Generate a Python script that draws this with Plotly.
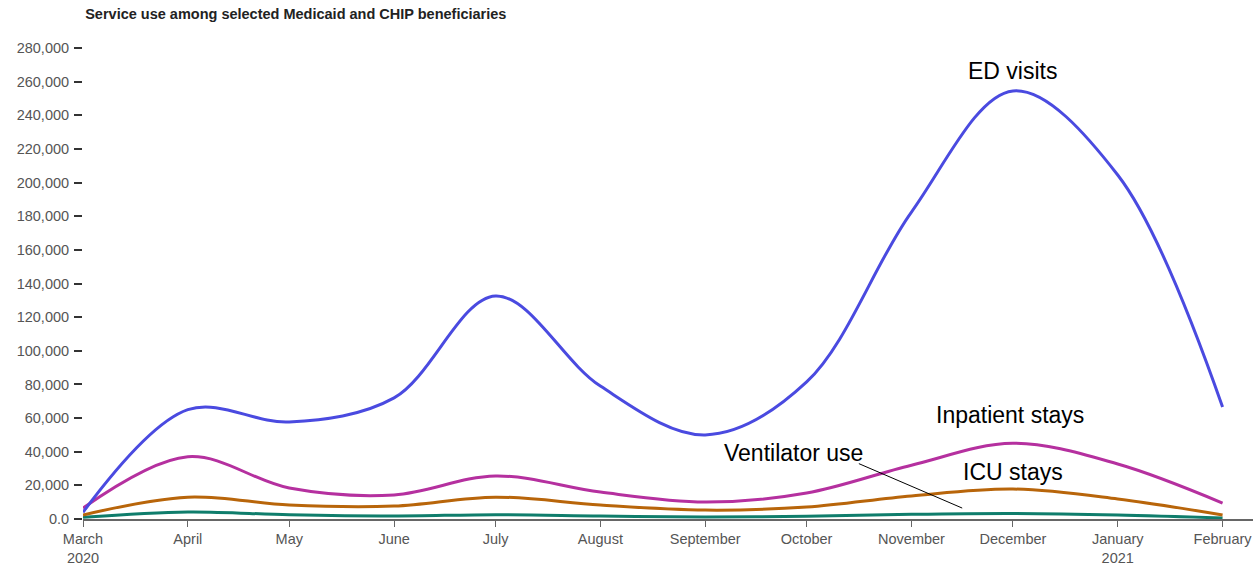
import plotly.graph_objects as go

# monthly service counts, March 2020 - February 2021
months = ["2020-03-01", "2020-04-01", "2020-05-01", "2020-06-01", "2020-07-01", "2020-08-01",
          "2020-09-01", "2020-10-01", "2020-11-01", "2020-12-01", "2021-01-01", "2021-02-01"]
month_labels = ["March<br>2020", "April", "May", "June", "July", "August", "September",
                "October", "November", "December", "January<br>2021", "February"]

ed_visits = [4000, 65000, 57700, 72000, 132600, 79000, 50000, 81500, 182500, 254500, 204500, 66600]
inpatient = [6500, 37000, 18400, 14300, 25600, 16000, 10100, 15500, 32000, 45000, 32700, 9500]
icu_stays = [2400, 13000, 8300, 7700, 13000, 8300, 5300, 7100, 13700, 17800, 11900, 2400]
ventilator = [1000, 4200, 2500, 1800, 2600, 1800, 1200, 1600, 2800, 3300, 2400, 600]

y_ticks = list(range(0, 280001, 20000))
y_labels = ["0.0"] + [f"{v:,}" for v in y_ticks[1:]]

series = [
    ("Ventilator use", ventilator, "#0f7d6c"),
    ("ICU stays", icu_stays, "#b8650a"),
    ("Inpatient stays", inpatient, "#b5309f"),
    ("ED visits", ed_visits, "#4a4ae0"),
]

fig = go.Figure()
for name, vals, color in series:
    fig.add_trace(go.Scatter(
        x=months, y=vals, name=name, mode="lines",
        line=dict(color=color, width=3, shape="spline", smoothing=1.0),
        hoverinfo="x+y+name",
    ))

label_font = dict(family="Liberation Sans, Arial, sans-serif", size=23, color="#000")
fig.add_annotation(x="2020-12-01", y=266500, text="ED visits", showarrow=False, font=label_font)
fig.add_annotation(x="2020-11-30", y=62000, text="Inpatient stays", showarrow=False, font=label_font)
fig.add_annotation(x="2020-12-01", y=28000, text="ICU stays", showarrow=False, font=label_font)
fig.add_annotation(x="2020-09-27", y=39500, text="Ventilator use", showarrow=False, font=label_font)
# leader line from "Ventilator use" down to the teal line
fig.add_annotation(x="2020-11-16", y=6500, ax="2020-10-16", ay=33300, axref="x", ayref="y",
                   text="", showarrow=True, arrowhead=0, arrowwidth=1, arrowcolor="#000",
                   standoff=0, startstandoff=0)

fig.update_layout(
    width=1253, height=564,
    margin=dict(l=83, r=0, t=48, b=45),
    plot_bgcolor="white", paper_bgcolor="white",
    showlegend=False,
    font=dict(family="Liberation Sans, Arial, sans-serif", size=14.5, color="#555"),
    title=dict(text="<b>Service use among selected Medicaid and CHIP beneficiaries</b>",
               x=0.068, xanchor="left", y=0.985, yanchor="top",
               font=dict(size=14.5, color="#222")),
    xaxis=dict(
        type="date", range=["2020-03-01", "2021-02-10"],
        tickvals=months, ticktext=month_labels, automargin=False,
        showgrid=False, zeroline=False,
        showline=True, linecolor="#666", linewidth=1.5,
        ticks="outside", ticklen=6, tickcolor="#666",
    ),
    yaxis=dict(
        range=[0, 280000], tickvals=y_ticks, ticktext=y_labels, automargin=False,
        showgrid=False, zeroline=False, showline=False,
        ticks="outside", ticklen=8, tickcolor="#333", tickwidth=1.5,
        ticklabelstandoff=2,
    ),
)

# drop the page's default body margin so the figure fills the window
fig.write_html("out.html", config={"displayModeBar": False},
               post_script="document.body.style.margin='0';")
